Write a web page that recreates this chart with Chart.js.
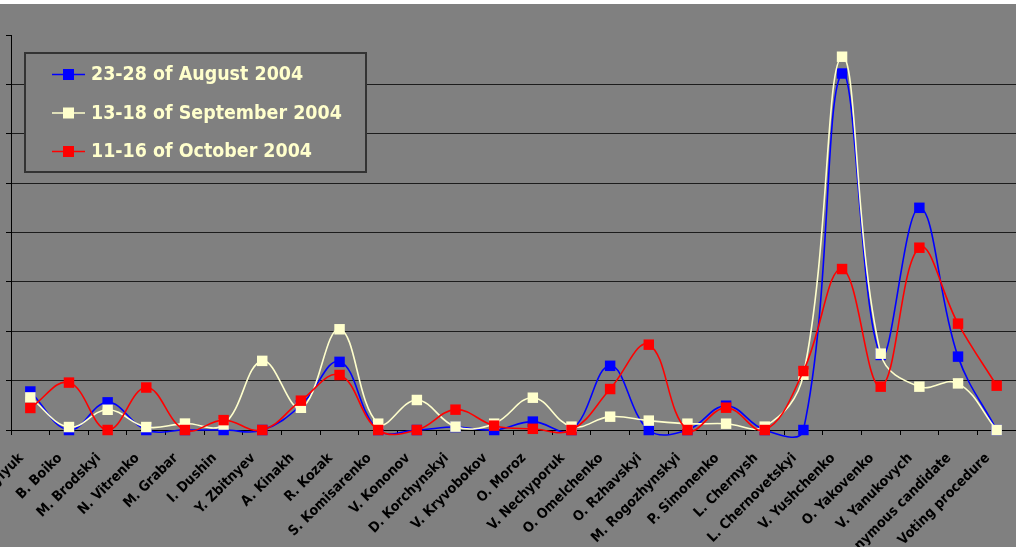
<!DOCTYPE html>
<html>
<head>
<meta charset="utf-8">
<title>Candidate mentions, August – October 2004</title>
<script src="https://cdn.jsdelivr.net/npm/chart.js@4/dist/chart.umd.min.js"></script>
<style>
  html, body { margin: 0; padding: 0; background: #808080; overflow: hidden; }
  #wrap { position: relative; width: 1016px; height: 547px; }
  #topStrip { position: absolute; left: 0; top: 0; width: 1016px; height: 4px; background: #ffffff; }
  canvas { display: block; }
</style>
</head>
<body>
<div id="wrap">
  <canvas id="chart" width="1016" height="547"></canvas>
  <div id="topStrip"></div>
</div>
<script>
// Candidates along the horizontal axis
const categories = [
  "O. Bazylyuk", "B. Boiko", "M. Brodskyi", "N. Vitrenko", "M. Grabar",
  "I. Dushin", "Y. Zbitnyev", "A. Kinakh", "R. Kozak", "S. Komisarenko",
  "V. Kononov", "D. Korchynskyi", "V. Kryvobokov", "O. Moroz", "V. Nechyporuk",
  "O. Omelchenko", "O. Rzhavskyi", "M. Rogozhynskyi", "P. Simonenko", "L. Chernysh",
  "L. Chernovetskyi", "V. Yushchenko", "O. Yakovenko", "V. Yanukovych",
  "Anonymous candidate", "Voting procedure"
];

// Survey waves
const seriesNames = ["23-28 of August 2004", "13-18 of September 2004", "11-16 of October 2004"];

const august = [3.9, 0, 2.8, 0, 0, 0, 0, 2.5, 6.9, 0, 0, 0.3, 0, 0.85, 0,
  6.5, 0, 0, 2.46, 0, 0, 36.1, 7.6, 22.5, 7.43, 0];
const september = [3.3, 0.3, 2.05, 0.3, 0.65, 0.55, 7.0, 2.25, 10.2, 0.64, 3.04, 0.34, 0.64, 3.27, 0.34,
  1.35, 0.95, 0.64, 0.64, 0.34, 5.6, 37.8, 7.73, 4.39, 4.72, 0];
const october = [2.23, 4.8, 0, 4.3, 0, 1.0, 0, 2.97, 5.57, 0, 0, 2.06, 0.44, 0.12, 0,
  4.15, 8.64, 0, 2.26, 0, 5.97, 16.3, 4.39, 18.46, 10.77, 4.49];

// Value axis range
const yMin = 0, yMax = 40, yStep = 5;

const seriesColors = ["#0000ff", "#ffffcc", "#ff0000"];

function series(label, data, color, order) {
  return {
    label, data, order,
    borderColor: color,
    backgroundColor: color,
    pointBackgroundColor: color,
    pointBorderColor: color,
    borderWidth: 1.6,
    pointStyle: 'rect',
    pointRadius: 7.4,
    pointBorderWidth: 0,
    pointHoverRadius: 7.4,
    tension: 0.4,
    fill: false,
    clip: false
  };
}

// Boxed legend drawn over the plot, top-left
const boxedLegend = {
  id: 'boxedLegend',
  afterDraw(chart, args, o) {
    const ctx = chart.ctx;
    ctx.save();
    ctx.fillStyle = o.fill;
    ctx.fillRect(o.x, o.y, o.w, o.h);
    ctx.strokeStyle = o.border;
    ctx.lineWidth = 2;
    ctx.strokeRect(o.x, o.y, o.w, o.h);
    chart.data.datasets.forEach((ds, i) => {
      const cy = o.y + o.firstRow + i * o.rowGap;
      ctx.strokeStyle = ds.borderColor;
      ctx.lineWidth = 1.6;
      ctx.beginPath();
      ctx.moveTo(o.lineX0, cy);
      ctx.lineTo(o.lineX1, cy);
      ctx.stroke();
      ctx.fillStyle = ds.pointBackgroundColor;
      const cx = (o.lineX0 + o.lineX1) / 2;
      ctx.fillRect(cx - o.mark / 2, cy - o.mark / 2, o.mark, o.mark);
      ctx.fillStyle = o.textColor;
      ctx.font = o.font;
      ctx.textBaseline = 'middle';
      ctx.textAlign = 'left';
      ctx.save();
      ctx.translate(o.textX, cy + 1);
      ctx.scale(o.squeeze, 1);
      ctx.fillText(ds.label, 0, 0);
      ctx.restore();
    });
    ctx.restore();
  }
};

new Chart(document.getElementById('chart'), {
  type: 'line',
  data: {
    labels: categories,
    datasets: [
      series(seriesNames[0], august, seriesColors[0], 3),
      series(seriesNames[1], september, seriesColors[1], 2),
      series(seriesNames[2], october, seriesColors[2], 1)
    ]
  },
  plugins: [boxedLegend],
  options: {
    responsive: false,
    animation: false,
    events: [],
    layout: { autoPadding: false, padding: { left: 6, top: 35, right: 0, bottom: 0 } },
    elements: { line: { capBezierPoints: false } },
    plugins: {
      legend: { display: false },
      tooltip: { enabled: false },
      boxedLegend: {
        x: 25, y: 53, w: 341, h: 119,
        fill: '#808080', border: '#333333',
        firstRow: 21.5, rowGap: 38.5,
        lineX0: 52, lineX1: 85, mark: 11,
        textX: 91, squeeze: 0.92,
        font: 'bold 19px "DejaVu Sans"',
        textColor: '#ffffcc'
      }
    },
    scales: {
      x: {
        type: 'category',
        offset: true,
        border: { display: true, color: '#000000', width: 1 },
        grid: {
          display: true,
          offset: true,
          drawOnChartArea: false,
          drawTicks: true,
          tickLength: 5,
          tickColor: '#000000'
        },
        ticks: {
          autoSkip: false,
          maxRotation: 45,
          minRotation: 45,
          padding: 15,
          labelOffset: -9,
          color: '#000000',
          font: { family: '"DejaVu Sans Condensed", "DejaVu Sans"', size: 14, weight: 'bold' }
        },
        afterFit(scale) {
          // let the first and last labels run past the canvas edges
          scale.paddingLeft = 0;
          scale.paddingRight = 0;
          scale.height = 117;
        }
      },
      y: {
        min: yMin,
        max: yMax,
        border: { display: true, color: '#000000', width: 1 },
        grid: {
          color: (c) => (c.tick && c.tick.value === yMax) ? 'rgba(0,0,0,0)' : '#1c1c1c',
          lineWidth: 1,
          drawTicks: true,
          tickLength: 5,
          tickColor: '#000000'
        },
        ticks: { display: false, stepSize: yStep },
        afterFit(scale) {
          scale.paddingTop = 0;
          scale.paddingBottom = 0;
        }
      }
    }
  }
});
</script>
</body>
</html>
